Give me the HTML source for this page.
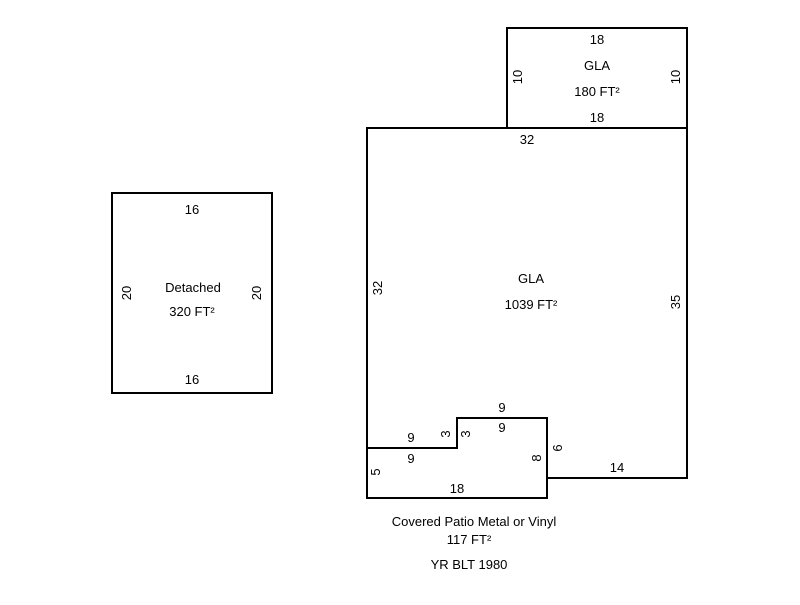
<!DOCTYPE html>
<html><head><style>body{margin:0;background:#fff}</style></head><body>
<svg width="800" height="600" xmlns="http://www.w3.org/2000/svg" font-family="Liberation Sans, Arial, sans-serif" font-size="13" fill="#000">
<g fill="none" stroke="#000" stroke-width="2">
<rect x="112" y="193" width="160" height="200"/>
<rect x="507" y="28" width="180" height="100"/>
<polyline points="367,498 367,128 687,128 687,478 547,478"/>
<polygon points="367,448 457,448 457,418 547,418 547,498 367,498"/>
</g>
<g text-anchor="middle">
<text x="192" y="214">16</text>
<text x="192" y="384">16</text>
<text x="193" y="292">Detached</text>
<text x="192" y="316">320 FT²</text>
<text transform="translate(131,293) rotate(-90)">20</text>
<text transform="translate(261,293) rotate(-90)">20</text>
<text x="597" y="44">18</text>
<text x="597" y="122">18</text>
<text x="597" y="70">GLA</text>
<text x="597" y="96">180 FT²</text>
<text transform="translate(522,77) rotate(-90)">10</text>
<text transform="translate(680,77) rotate(-90)">10</text>
<text x="527" y="144">32</text>
<text x="531" y="283">GLA</text>
<text x="531" y="309">1039 FT²</text>
<text transform="translate(382,288) rotate(-90)">32</text>
<text transform="translate(680,302) rotate(-90)">35</text>
<text x="502" y="412">9</text>
<text x="502" y="432">9</text>
<text x="411" y="442">9</text>
<text x="411" y="463">9</text>
<text transform="translate(450,434) rotate(-90)">3</text>
<text transform="translate(470,434) rotate(-90)">3</text>
<text transform="translate(541,458) rotate(-90)">8</text>
<text transform="translate(562,448) rotate(-90)">6</text>
<text x="617" y="472">14</text>
<text transform="translate(380,472) rotate(-90)">5</text>
<text x="457" y="493">18</text>
<text x="474" y="526">Covered Patio Metal or Vinyl</text>
<text x="469" y="544">117 FT²</text>
<text x="469" y="569">YR BLT 1980</text>
</g>
</svg>
</body></html>
